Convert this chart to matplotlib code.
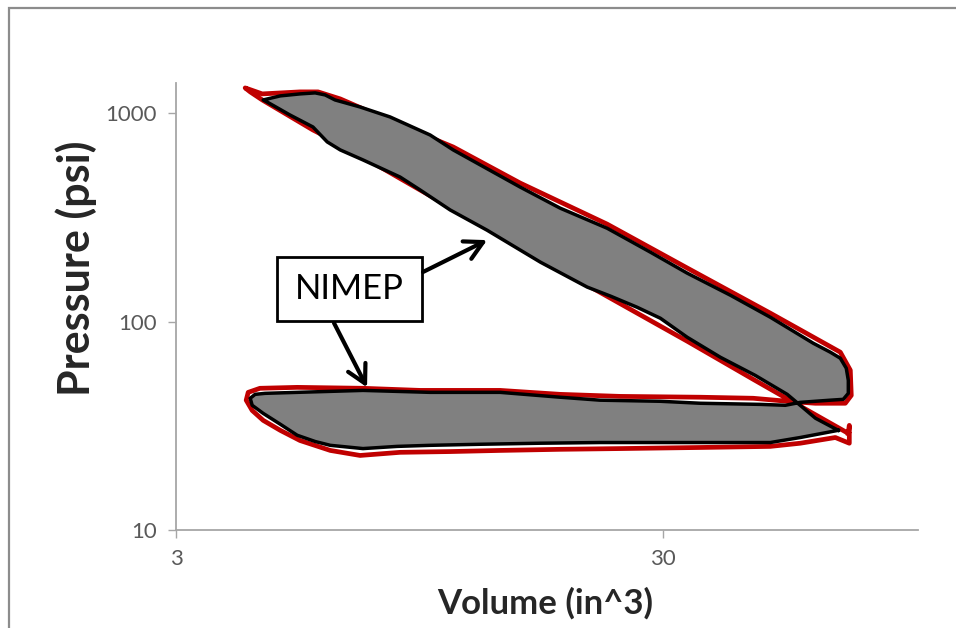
import matplotlib
matplotlib.use("Agg")
import matplotlib.pyplot as plt
from matplotlib.patches import Rectangle

plt.rcParams['font.family'] = ['Lato', 'DejaVu Sans']

# Averaged engine cycle: compression, expansion, exhaust, intake (volume in^3, pressure psi)
cycle_volume = [68.6, 61.6, 57.3, 53.9, 46.3, 39.3, 33.6, 29.6, 26.5, 23.4, 20.95, 16.8,
                13.05, 10.96, 9.51, 8.65, 7.26, 6.52, 6.13, 5.73, 5.14, 4.61, 4.53,
                4.91, 5.39, 5.79, 6.07, 6.36, 7.16, 8.25, 9.97, 11.12, 15.26, 18.43,
                23.02, 28.21, 33.61, 41.19, 49.76, 60.97, 66.08, 69.27, 71.25, 71.94,
                71.94, 70.25, 66.08, 61.55, 57.33,
                53.42, 47.46, 35.73, 29.57, 22.27, 18.43, 13.88, 9.97, 7.26, 6.22,
                5.32, 4.57, 4.36, 4.26,
                4.30, 4.53, 4.91, 5.32, 5.79, 6.22, 7.26, 8.53, 9.97, 12.63, 16.77,
                22.27, 29.57, 39.27, 49.76, 57.33]
cycle_pressure = [30.1, 34.4, 39.7, 44.8, 55.3, 67.5, 84.2, 103.9, 117.4, 132.6, 146.6, 193,
                  275, 344, 429, 495, 598, 668, 730, 861, 983, 1136, 1161,
                  1214, 1241, 1255, 1227, 1161, 1074, 962, 788, 668, 443, 351,
                  281, 216, 171, 134.1, 105.1, 78.8, 71.4, 66.8, 59.8, 52.3,
                  45.3, 42.4, 42.0, 41.5, 41.0,
                  39.7, 40.1, 40.6, 41.5, 42.0, 43.4, 45.8, 45.8, 46.8, 46.3,
                  45.8, 45.3, 44.8, 42.9,
                  39.7, 36.3, 32.2, 28.5, 26.6, 25.5, 24.6, 25.2, 25.5, 25.8, 26.1,
                  26.3, 26.3, 26.3, 26.3, 27.8]

# Raw measured cycles (envelope of the recorded traces)
raw_volume = [71.94, 57.33, 45.90, 33.61, 20.95, 13.05, 9.51, 6.52, 5.73, 4.51, 4.26, 4.16,
              4.51, 5.39, 5.87, 6.52, 8.65, 11.12, 15.26, 23.02, 33.61, 49.76, 61.55,
              69.27, 72.62, 72.95, 70.92, 61.55, 53.92,
              45.90, 35.73, 24.48, 18.43, 13.88, 9.51, 7.26, 5.32, 4.46, 4.22, 4.18,
              4.30, 4.53, 4.91, 5.39, 6.22, 7.16, 8.65, 10.96, 13.88, 18.43, 24.48,
              35.73, 49.76, 57.33, 67.66, 72.28, 72.28, 71.94]
raw_pressure = [29.1, 39.3, 52.9, 80.6, 149.8, 281, 429, 713.6, 833, 1161, 1269, 1326,
                1241, 1269, 1269, 1174, 880, 690, 463, 294, 181, 109.9, 83.3,
                71.4, 58.5, 44.3, 40.6, 40.6, 41.5,
                42.9, 43.4, 43.8, 44.8, 46.8, 46.8, 47.9, 48.4, 47.9, 45.8, 42.0,
                37.5, 33.6, 30.1, 26.9, 24.1, 22.8, 23.6, 23.8, 24.1, 24.4, 24.6,
                24.9, 25.2, 26.1, 27.8, 26.1, 31.8, 29.1]

x_ticks = [3, 30]
y_ticks = [10, 100, 1000]
x_label = "Volume (in^3)"
y_label = "Pressure (psi)"
annotation_text = "NIMEP"
# Points on the cycle the annotation arrows point at
arrow_targets = [(13.05, 246.5), (7.40, 48.4)]

W, H = 956, 628
fig = plt.figure(figsize=(W / 100, H / 100), dpi=100)
ax = fig.add_axes([176 / W, 98 / H, 742 / W, 447 / H])
ax.set_xscale('log')
ax.set_yscale('log')
ax.set_xlim(3, 100)
ax.set_ylim(10, 1400)

ax.plot(raw_volume + raw_volume[:1], raw_pressure + raw_pressure[:1],
        color='#C00000', lw=3.4, solid_joinstyle='round', zorder=2)
ax.fill(cycle_volume, cycle_pressure, facecolor='#808080', edgecolor='none', zorder=3)
ax.plot(cycle_volume + cycle_volume[:1], cycle_pressure + cycle_pressure[:1],
        color='black', lw=2.5, solid_joinstyle='round', zorder=4)

axis_grey = '#A6A6A6'
for side in ('top', 'right'):
    ax.spines[side].set_visible(False)
for side in ('left', 'bottom'):
    ax.spines[side].set_color(axis_grey)
    ax.spines[side].set_linewidth(1.3)
ax.set_xticks(x_ticks)
ax.set_xticklabels([str(t) for t in x_ticks])
ax.set_yticks(y_ticks)
ax.set_yticklabels([str(t) for t in y_ticks])
ax.minorticks_off()
ax.tick_params(axis='both', direction='out', length=6, width=1.0, color=axis_grey,
               labelsize=16, labelcolor='#595959', pad=8)

fig.text(545 / W, 1 - 603 / H, x_label, ha='center', va='center',
         fontsize=25, fontweight='bold', color='#262626')
fig.text(76 / W, 1 - 268 / H, y_label, ha='center', va='center', rotation=90,
         fontsize=31, fontweight='bold', color='#262626')

# Annotation box with arrows
box_x0, box_x1 = (277 - 176) / 742, (422 - 176) / 742
box_y0, box_y1 = (530 - 321) / 447, (530 - 257) / 447
ax.add_patch(Rectangle((box_x0, box_y0), box_x1 - box_x0, box_y1 - box_y0,
                       transform=ax.transAxes, facecolor='white', edgecolor='black',
                       lw=2.0, zorder=6))
ax.text((box_x0 + box_x1) / 2, (box_y0 + box_y1) / 2, annotation_text,
        transform=ax.transAxes, ha='center', va='center', fontsize=25,
        color='black', zorder=7)
arrow_tails = [((423 - 176) / 742, (530 - 272) / 447), ((334 - 176) / 742, (530 - 323) / 447)]
for tail, tip in zip(arrow_tails, arrow_targets):
    ax.annotate('', xy=tip, xycoords='data', xytext=tail, textcoords='axes fraction',
                arrowprops=dict(arrowstyle='->,head_length=1.3,head_width=0.7',
                                color='black', lw=3.0, shrinkA=0, shrinkB=0,
                                mutation_scale=10),
                zorder=8)

# Chart-area frame
fig.patches.append(Rectangle((9 / W, -0.2), 1.3, 1 - 8 / H + 0.2, transform=fig.transFigure,
                             fill=False, edgecolor='#8C8C8C', lw=1.6, zorder=0))

fig.savefig('out.png', dpi=100)
